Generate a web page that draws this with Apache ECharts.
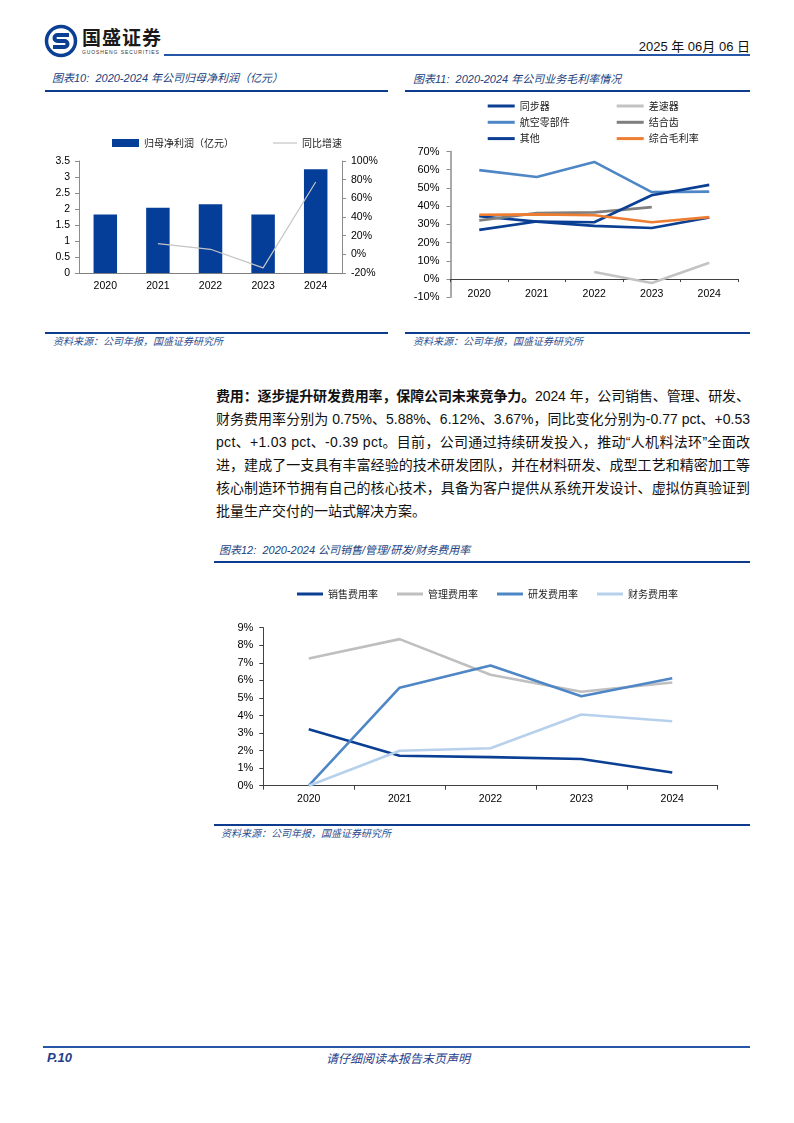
<!DOCTYPE html>
<html>
<head>
<meta charset="utf-8">
<script src="https://cdn.jsdelivr.net/npm/echarts@6/dist/echarts.min.js"></script>
<style>
  body { margin: 0; background: #fff; }
  #page { position: relative; width: 794px; height: 1123px; overflow: hidden; font-family: 'Liberation Sans', 'Noto Sans CJK SC', sans-serif; }
  .abs { position: absolute; }
  .rule { position: absolute; height: 2px; background: #0d3b8e; }
  .cap { position: absolute; font-size: 11px; font-style: italic; color: #203f7e; white-space: nowrap; line-height: 14px; }
  .src { position: absolute; font-size: 10px; font-style: italic; color: #2d4f8f; white-space: nowrap; line-height: 13px; }
  .para { position: absolute; left: 216px; top: 385px; width: 534px; font-size: 14px; line-height: 23px; color: #111; }
  .para .ln { white-space: nowrap; height: 23px; }
</style>
</head>
<body>
<div id="page">
  <!-- header -->
  <svg class="abs" style="left:44px;top:24px" width="34" height="34" viewBox="0 0 34 34">
    <circle cx="17" cy="17" r="14.5" fill="none" stroke="#0b3f94" stroke-width="3.5"/>
    <path d="M25 11 H13.5 a3 3 0 0 0 0 6 h7 a3 3 0 0 1 0 6 H9" fill="none" stroke="#0b3f94" stroke-width="4"/>
  </svg>
  <div class="abs" style="left:82px;top:26px;font-size:19px;font-weight:bold;letter-spacing:1px;color:#1a1a1a;font-family:'Noto Sans CJK SC';line-height:22px">国盛证券</div>
  <div class="abs" style="left:82px;top:49px;font-size:5px;letter-spacing:0.9px;color:#333;line-height:6px">GUOSHENG SECURITIES</div>
  <div class="rule" style="left:164px;top:54px;width:586px;height:1.5px;background:#2556a8"></div>
  <div class="abs" style="right:44px;top:39px;font-size:13px;color:#111;line-height:16px;white-space:nowrap">2025 年 06月 06 日</div>

  <!-- figure 10 -->
  <div class="cap" style="left:52px;top:71px">图表10:&nbsp; 2020-2024 年公司归母净利润（亿元）</div>
  <div class="rule" style="left:45px;top:90px;width:343px"></div>
  <div id="chart10" class="abs" style="left:45px;top:95px;width:345px;height:235px"></div>
  <div class="rule" style="left:45px;top:332px;width:343px"></div>
  <div class="src" style="left:53px;top:335px">资料来源：公司年报，国盛证券研究所</div>

  <!-- figure 11 -->
  <div class="cap" style="left:413px;top:72px">图表11:&nbsp; 2020-2024 年公司业务毛利率情况</div>
  <div class="rule" style="left:405px;top:90px;width:345px"></div>
  <div id="chart11" class="abs" style="left:405px;top:95px;width:345px;height:235px"></div>
  <div class="rule" style="left:405px;top:332px;width:345px"></div>
  <div class="src" style="left:413px;top:335px">资料来源：公司年报，国盛证券研究所</div>

  <!-- text -->
  <div class="para">
    <div class="ln"><span><b>费用：逐步提升研发费用率，保障公司未来竞争力。</b>2024 年，公司销售、管理、研发、</span></div>
    <div class="ln"><span>财务费用率分别为 0.75%、5.88%、6.12%、3.67%，同比变化分别为-0.77 pct、+0.53</span></div>
    <div class="ln"><span>pct、+1.03 pct、-0.39 pct。目前，公司通过持续研发投入，推动“人机料法环”全面改</span></div>
    <div class="ln"><span>进，建成了一支具有丰富经验的技术研发团队，并在材料研发、成型工艺和精密加工等</span></div>
    <div class="ln"><span>核心制造环节拥有自己的核心技术，具备为客户提供从系统开发设计、虚拟仿真验证到</span></div>
    <div class="ln last"><span>批量生产交付的一站式解决方案。</span></div>
  </div>

  <!-- figure 12 -->
  <div class="cap" style="left:219px;top:543px">图表12:&nbsp; 2020-2024 公司销售/管理/研发/财务费用率</div>
  <div class="rule" style="left:214px;top:561px;width:536px"></div>
  <div id="chart12" class="abs" style="left:214px;top:565px;width:536px;height:258px"></div>
  <div class="rule" style="left:214px;top:824px;width:536px"></div>
  <div class="src" style="left:221px;top:827px">资料来源：公司年报，国盛证券研究所</div>

  <!-- footer -->
  <div class="rule" style="left:43px;top:1046px;width:707px;height:1.5px;background:#2556a8"></div>
  <div class="abs" style="left:47px;top:1050px;font-size:13px;font-weight:bold;font-style:italic;color:#1f3d8a;line-height:15px">P.10</div>
  <div class="abs" style="left:326px;top:1050px;font-size:12px;font-style:italic;color:#1f3d8a;line-height:15px;font-family:'Noto Sans CJK SC'">请仔细阅读本报告末页声明</div>
</div>

<script>
// data
const years = ['2020', '2021', '2022', '2023', '2024'];

// 图表10
const netProfit = [1.83, 2.04, 2.15, 1.83, 3.24];
const profitYoY = [null, 11.5, 5.4, -14.5, 77.5];

// 图表11 (%)
const syncGear = [34.5, 31.5, 29.2, 28.0, 33.8];
const diffGear = [null, null, 3.9, -2.2, 9.0];
const aeroParts = [59.8, 56.0, 64.3, 47.7, 48.0];
const clutchGear = [32.2, 36.2, 36.6, 39.5, null];
const otherBiz = [27.0, 31.6, 31.2, 46.0, 51.7];
const totalMargin = [35.3, 35.5, 35.0, 31.2, 34.0];

// 图表12 (%)
const sellingRate = [3.21, 1.71, 1.63, 1.52, 0.75];
const adminRate = [7.25, 8.35, 6.32, 5.35, 5.88];
const rdRate = [0, 5.58, 6.85, 5.09, 6.12];
const financeRate = [0, 1.99, 2.13, 4.06, 3.67];

const NAVY = '#0a3f94';
const MID = '#4f86c6';
const latin = "'Liberation Sans', Arial, sans-serif";
const cjk = "'Noto Sans CJK SC', sans-serif";

// justify paragraph lines
document.querySelectorAll('.para .ln').forEach(el => {
  if (el.classList.contains('last')) return;
  const span = el.firstElementChild;
  const w = span.getBoundingClientRect().width;
  const n = span.textContent.length;
  span.style.letterSpacing = ((534 - w) / (n - 1)) + 'px';
});

const axisLab = { color: '#000', fontSize: 10.5, fontFamily: latin };
const legendText = { color: '#222', fontSize: 10, fontFamily: cjk, lineHeight: 12 };

// ---------- chart 10
const chart10 = echarts.init(document.getElementById('chart10'));
chart10.setOption({
  animation: false,
  grid: { left: 34, right: 48, top: 66, bottom: 57 },
  legend: [
    {
      data: ['归母净利润（亿元）'], left: 62, top: 37, icon: 'rect',
      itemWidth: 27, itemHeight: 8, textStyle: legendText
    },
    {
      data: ['同比增速'], left: 223, top: 37, icon: 'rect',
      itemWidth: 24, itemHeight: 1.2, textStyle: legendText
    }
  ],
  xAxis: {
    type: 'category',
    data: years,
    axisLine: { lineStyle: { color: '#7f7f7f' } },
    axisTick: { show: false },
    axisLabel: Object.assign({ margin: 8 }, axisLab)
  },
  yAxis: [
    {
      type: 'value', min: 0, max: 3.5, interval: 0.5,
      axisLine: { show: true, lineStyle: { color: '#8c8c8c' } },
      axisTick: { show: true, length: 4, lineStyle: { color: '#8c8c8c' } },
      splitLine: { show: false },
      axisLabel: Object.assign({ margin: 9 }, axisLab)
    },
    {
      type: 'value', min: -20, max: 100, interval: 20, position: 'right',
      axisLine: { show: true, lineStyle: { color: '#8c8c8c' } },
      axisTick: { show: true, length: 4, lineStyle: { color: '#8c8c8c' } },
      splitLine: { show: false },
      axisLabel: Object.assign({ margin: 9, formatter: '{value}%' }, axisLab)
    }
  ],
  series: [
    {
      name: '归母净利润（亿元）', type: 'bar', data: netProfit,
      barWidth: 23.5, itemStyle: { color: '#053e98' }
    },
    {
      name: '同比增速', type: 'line', yAxisIndex: 1, data: profitYoY,
      symbol: 'none', lineStyle: { color: '#c4c4c4', width: 1.2 }, itemStyle: { color: '#c4c4c4' }
    }
  ]
});

// ---------- chart 11
const chart11 = echarts.init(document.getElementById('chart11'));
const lineSeries = (name, data, color) => ({
  name, type: 'line', data, symbol: 'none',
  lineStyle: { color, width: 2.6 }, itemStyle: { color }
});
chart11.setOption({
  animation: false,
  grid: { left: 45.5, right: 12, top: 56.5, bottom: 32.7 },
  legend: [
    {
      data: ['同步器', '航空零部件', '其他'], orient: 'vertical', left: 77.7, top: 0,
      icon: 'rect', itemWidth: 27, itemHeight: 3, itemGap: 4.3, textStyle: legendText
    },
    {
      data: ['差速器', '结合齿', '综合毛利率'], orient: 'vertical', left: 206.7, top: 0,
      icon: 'rect', itemWidth: 27, itemHeight: 3, itemGap: 4.3, textStyle: legendText
    }
  ],
  xAxis: {
    type: 'category',
    data: years,
    axisLine: { onZero: true, lineStyle: { color: '#404040' } },
    axisTick: { show: true, length: 3, lineStyle: { color: '#404040' } },
    axisLabel: Object.assign({ margin: -9 }, axisLab)
  },
  yAxis: {
    type: 'value', min: -10, max: 70, interval: 10,
    axisLine: { show: true, lineStyle: { color: '#8c8c8c', width: 1.5 } },
    axisTick: { show: true, length: 4, lineStyle: { color: '#8c8c8c' } },
    splitLine: { show: false },
    axisLabel: Object.assign({ margin: 11, formatter: '{value}%' }, axisLab, { fontSize: 11 })
  },
  series: [
    lineSeries('同步器', syncGear, NAVY),
    lineSeries('差速器', diffGear, '#c3c3c3'),
    lineSeries('航空零部件', aeroParts, MID),
    lineSeries('结合齿', clutchGear, '#7f7f7f'),
    lineSeries('其他', otherBiz, NAVY),
    lineSeries('综合毛利率', totalMargin, '#ed7d31')
  ]
});

// ---------- chart 12
const chart12 = echarts.init(document.getElementById('chart12'));
chart12.setOption({
  animation: false,
  grid: { left: 49.3, right: 32.3, top: 62.7, bottom: 37.3 },
  legend: {
    data: ['销售费用率', '管理费用率', '研发费用率', '财务费用率'],
    left: 78, top: 18, icon: 'rect', itemWidth: 26, itemHeight: 3, itemGap: 19,
    textStyle: legendText
  },
  xAxis: {
    type: 'category',
    data: years,
    axisLine: { lineStyle: { color: '#404040' } },
    axisTick: { show: true, length: 4, lineStyle: { color: '#404040' } },
    axisLabel: Object.assign({ margin: 8 }, axisLab)
  },
  yAxis: {
    type: 'value', min: 0, max: 9, interval: 1,
    axisLine: { show: true, lineStyle: { color: '#404040' } },
    axisTick: { show: true, length: 4, lineStyle: { color: '#404040' } },
    splitLine: { show: false },
    axisLabel: Object.assign({ margin: 10, formatter: '{value}%' }, axisLab, { fontSize: 11 })
  },
  series: [
    lineSeries('销售费用率', sellingRate, NAVY),
    lineSeries('管理费用率', adminRate, '#bfbfbf'),
    lineSeries('研发费用率', rdRate, MID),
    lineSeries('财务费用率', financeRate, '#b7d0ec')
  ]
});
</script>
</body>
</html>
